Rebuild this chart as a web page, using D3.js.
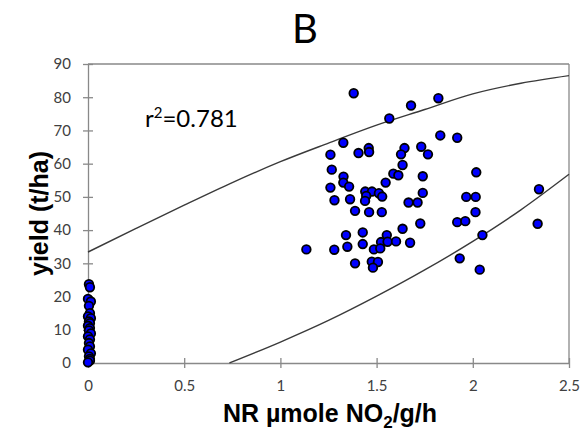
<!DOCTYPE html>
<html>
<head>
<meta charset="utf-8">
<script src="https://cdn.jsdelivr.net/npm/d3@7"></script>
<style>
  body { margin: 0; background: #fff; }
  svg text { font-family: Lato, "Open Sans", sans-serif; }
</style>
</head>
<body>
<div id="chart"></div>
<script>
// samples with no NR activity (stacked on x = 0)
var zeroNR = [0.005, 0.01, 0, 0.015, 0.005, 0.01, 0, 0.015, 0.005, 0.01, 0, 0.01,
              0.005, 0.015, 0, 0.01, 0.005, 0.01, 0, 0.015, 0.005, 0.01, 0.01, 0];
var zeroYield = [23.7, 22.8, 19.3, 18.5, 17.2, 15.0, 14.0, 13.5, 12.5, 12.0, 11.2, 10.5,
                 9.8, 8.9, 8.0, 7.1, 6.0, 5.0, 4.0, 2.9, 2.0, 1.2, 0.7, 0.2];

// samples with NR activity
var nrValues = [1.381, 1.679, 1.821, 1.566, 1.831, 1.919, 1.327, 1.260, 1.406, 1.459,
                1.461, 1.645, 1.627, 1.732, 1.767, 1.635, 1.267, 1.328, 1.587, 1.613,
                1.740, 2.018, 1.327, 1.357, 1.260, 1.547, 1.441, 1.476, 1.512, 1.446,
                1.529, 1.740, 1.281, 1.362, 1.440, 1.666, 1.713, 1.966, 2.015, 1.388,
                1.461, 1.527, 2.014, 2.344, 1.727, 1.635, 1.919, 1.961, 2.337, 1.341,
                1.428, 1.553, 2.050, 1.348, 1.428, 1.523, 1.557, 1.601, 1.674, 1.135,
                1.280, 1.486, 1.519, 1.932, 1.388, 1.475, 1.507, 1.481, 2.036];
var yieldValues = [81.2, 77.5, 79.7, 73.6, 68.5, 67.8, 66.3, 62.7, 63.2, 64.7,
                   63.5, 64.7, 62.8, 65.1, 62.8, 59.6, 58.2, 56.1, 57.0, 56.5,
                   56.2, 57.4, 54.3, 53.1, 52.8, 54.3, 51.6, 51.6, 51.1, 50.3,
                   50.1, 51.2, 49.0, 49.3, 48.8, 48.3, 48.3, 50.0, 50.0, 45.8,
                   45.4, 45.4, 45.4, 52.3, 42.0, 40.4, 42.4, 42.7, 41.9, 38.5,
                   39.3, 38.5, 38.5, 35.0, 35.8, 36.4, 36.5, 36.6, 36.2, 34.2,
                   34.1, 34.2, 34.5, 31.5, 30.0, 30.5, 30.4, 28.7, 28.1];

// band curves
var upperX = [0, 0.25, 0.5, 0.75, 1.0, 1.25, 1.5, 1.75, 2.0, 2.25, 2.5];
var upperY = [33.4, 40.5, 47.5, 54.3, 60.6, 66.2, 71.6, 76.3, 81.0, 84.2, 86.5];
var lowerX = [0.735, 1.0, 1.25, 1.5, 1.75, 2.0, 2.25, 2.5];
var lowerY = [0, 6.3, 12.8, 20.1, 28.0, 36.6, 46.1, 56.8];

var xTicks = [0, 0.5, 1, 1.5, 2, 2.5];
var yTicks = [0, 10, 20, 30, 40, 50, 60, 70, 80, 90];

var W = 583, H = 440;
var margin = {top: 64, right: 14, bottom: 77, left: 88};

var svg = d3.select("#chart").append("svg")
    .attr("width", W)
    .attr("height", H);

var x = d3.scaleLinear().domain([0, 2.5]).range([margin.left, W - margin.right]);
var y = d3.scaleLinear().domain([0, 90]).range([H - margin.bottom, margin.top]);

var axisColor = "#898989";

// plot area border (top and right)
svg.append("line")
    .attr("x1", x(0)).attr("x2", x(2.5))
    .attr("y1", y(90)).attr("y2", y(90))
    .attr("stroke", axisColor).attr("stroke-width", 1.3);
svg.append("line")
    .attr("x1", x(2.5)).attr("x2", x(2.5))
    .attr("y1", y(90)).attr("y2", y(0))
    .attr("stroke", axisColor).attr("stroke-width", 1.3);

// axes, ticks cross the axis line
var xAxis = svg.append("g")
    .attr("transform", "translate(0," + y(0) + ")")
    .call(d3.axisBottom(x).tickValues(xTicks).tickSizeInner(5).tickSizeOuter(0)
        .tickFormat(function (d) { return d; }));
xAxis.selectAll(".tick line").attr("y1", -5);
xAxis.selectAll("text").attr("dy", "1.3em");

var yAxis = svg.append("g")
    .attr("transform", "translate(" + x(0) + ",0)")
    .call(d3.axisLeft(y).tickValues(yTicks).tickSizeInner(5).tickSizeOuter(0));
yAxis.selectAll(".tick line").attr("x1", 5);
yAxis.selectAll("text").attr("dx", "-0.6em");

[xAxis, yAxis].forEach(function (a) {
    a.select(".domain").attr("stroke", axisColor).attr("stroke-width", 1.3);
    a.selectAll(".tick line").attr("stroke", axisColor).attr("stroke-width", 1.3);
    a.selectAll("text").attr("fill", "#404040").style("font-size", "15px");
});

// band curves
var line = d3.line()
    .x(function (d) { return x(d[0]); })
    .y(function (d) { return y(d[1]); })
    .curve(d3.curveMonotoneX);

svg.append("path")
    .datum(d3.zip(upperX, upperY))
    .attr("d", line)
    .attr("fill", "none").attr("stroke", "#3a3a3a").attr("stroke-width", 1.4);
svg.append("path")
    .datum(d3.zip(lowerX, lowerY))
    .attr("d", line)
    .attr("fill", "none").attr("stroke", "#3a3a3a").attr("stroke-width", 1.4);

// points
var points = d3.zip(zeroNR, zeroYield).concat(d3.zip(nrValues, yieldValues));
svg.append("g").selectAll("circle")
    .data(points)
    .enter()
    .append("circle")
    .attr("cx", function (d) { return x(d[0]); })
    .attr("cy", function (d) { return y(d[1]); })
    .attr("r", 4.3)
    .attr("fill", "#0000ff")
    .attr("stroke", "#000")
    .attr("stroke-width", 1.8);

// title
svg.append("text")
    .attr("x", 305).attr("y", 43)
    .attr("text-anchor", "middle")
    .style("font-size", "40px")
    .attr("fill", "#000")
    .text("B");

// r squared label
var r2 = svg.append("text")
    .attr("x", 145).attr("y", 127)
    .style("font-size", "24px")
    .attr("fill", "#000");
r2.append("tspan").text("r");
r2.append("tspan").attr("dy", -9).style("font-size", "15px").text("2");
r2.append("tspan").attr("dy", 9).text("=0.781");

// axis titles
svg.append("text")
    .attr("transform", "translate(48," + ((y(0) + y(90)) / 2) + ") rotate(-90)")
    .attr("text-anchor", "middle")
    .style("font-family", "'Liberation Sans', Arial, sans-serif")
    .style("font-size", "25px")
    .style("font-weight", "bold")
    .text("yield (t/ha)");

var xt = svg.append("text")
    .attr("x", 330).attr("y", 422)
    .attr("text-anchor", "middle")
    .style("font-family", "'Liberation Sans', Arial, sans-serif")
    .style("font-size", "25px")
    .style("font-weight", "bold");
xt.append("tspan").text("NR µmole NO");
xt.append("tspan").attr("dy", 6).style("font-size", "17px").text("2");
xt.append("tspan").attr("dy", -6).text("/g/h");
</script>
</body>
</html>
